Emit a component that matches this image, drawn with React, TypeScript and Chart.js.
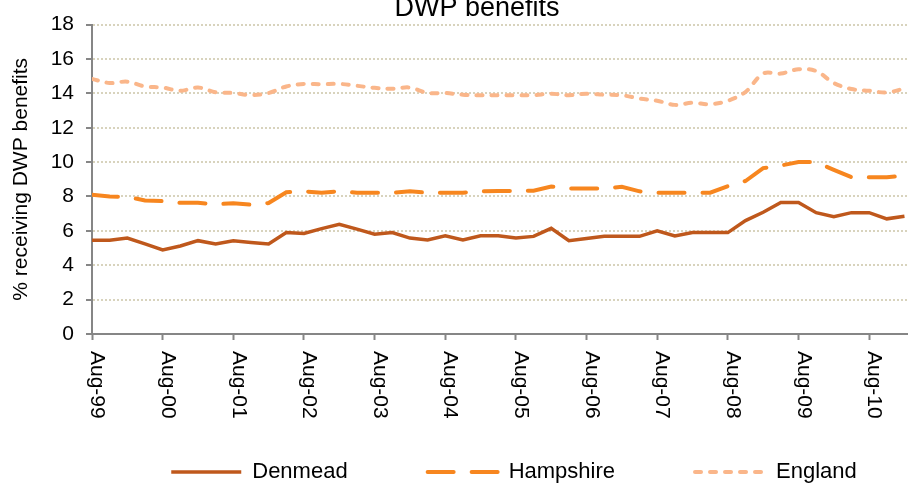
import React, { useEffect, useRef } from 'react';
import { Chart, registerables } from 'chart.js';

Chart.register(...registerables);

const FONT = "'Liberation Sans', Arial, sans-serif";

// Quarterly observations, Aug-99 onwards
const yearLabels = ['Aug-99', 'Aug-00', 'Aug-01', 'Aug-02', 'Aug-03', 'Aug-04', 'Aug-05', 'Aug-06', 'Aug-07', 'Aug-08', 'Aug-09', 'Aug-10'];

const denmead = [
  5.45, 5.45, 5.58, 5.24, 4.89, 5.12, 5.43, 5.24, 5.43, 5.33, 5.24, 5.9,
  5.85, 6.13, 6.38, 6.1, 5.8, 5.9, 5.58, 5.47, 5.71, 5.47, 5.71, 5.71,
  5.58, 5.68, 6.15, 5.43, 5.56, 5.68, 5.68, 5.68, 6.0, 5.71, 5.9, 5.9,
  5.9, 6.6, 7.08, 7.65, 7.65, 7.06, 6.83, 7.06, 7.06, 6.7, 6.85,
];

const hampshire = [
  8.1, 8.0, 7.98, 7.77, 7.73, 7.63, 7.63, 7.55, 7.6, 7.52, 7.62, 8.25,
  8.3, 8.22, 8.3, 8.22, 8.22, 8.22, 8.3, 8.22, 8.22, 8.22, 8.3, 8.32,
  8.33, 8.33, 8.58, 8.46, 8.46, 8.46, 8.56, 8.3, 8.22, 8.22, 8.22, 8.22,
  8.6, 8.9, 9.65, 9.8, 10.0, 10.0, 9.55, 9.12, 9.12, 9.12, 9.2,
];

const england = [
  14.84, 14.6, 14.68, 14.4, 14.34, 14.15, 14.34, 14.06, 14.02, 13.9, 14.02, 14.4,
  14.55, 14.53, 14.55, 14.44, 14.32, 14.27, 14.34, 14.02, 14.02, 13.92, 13.89, 13.89,
  13.89, 13.89, 13.98, 13.89, 13.98, 13.92, 13.89, 13.7, 13.57, 13.33, 13.45, 13.37,
  13.57, 14.08, 15.15, 15.15, 15.4, 15.3, 14.6, 14.25, 14.15, 14.05, 14.28,
];

const yTicks = { min: 0, max: 18, step: 2 };

const toPoints = (arr: number[]) => arr.map((y, i) => ({ x: i, y }));

const layoutPlugin = {
  id: 'layoutTweaks',
  afterLayout(chart: any) {
    const lg = chart.legend;
    if (lg) {
      const h = lg.bottom - lg.top;
      lg.left += 60;
      lg.right += 60;
      lg.top = 381;
      lg.bottom = lg.top + h;
    }
    const tb = chart.titleBlock;
    if (tb) {
      tb.left += 23;
      tb.right += 23;
    }
  },
  afterDraw(chart: any) {
    const xs = chart.scales.x;
    const ctx = chart.ctx;
    ctx.save();
    ctx.font = `21px ${FONT}`;
    ctx.fillStyle = '#000';
    ctx.textAlign = 'left';
    ctx.textBaseline = 'middle';
    xs.ticks.forEach((t: any) => {
      const idx = Math.round(t.value / 4);
      const label = yearLabels[idx];
      if (!label) return;
      const px = xs.getPixelForValue(t.value);
      ctx.save();
      ctx.translate(px + 5, xs.top + 17);
      ctx.rotate(Math.PI / 2);
      ctx.fillText(label, 0, 0);
      ctx.restore();
    });
    ctx.restore();
  },
};

export default function App() {
  const ref = useRef<HTMLCanvasElement>(null);

  useEffect(() => {
    if (!ref.current) return;
    Chart.defaults.font.family = FONT;
    Chart.defaults.color = '#000';
    const baseGen = Chart.defaults.plugins.legend.labels.generateLabels;
    const chart = new Chart(ref.current, {
      type: 'line',
      data: {
        datasets: [
          {
            label: 'Denmead',
            data: toPoints(denmead),
            borderColor: '#BF581C',
            backgroundColor: '#BF581C',
            borderWidth: 3.5,
            pointRadius: 0,
            tension: 0,
            fill: false,
          },
          {
            label: 'Hampshire',
            data: toPoints(hampshire),
            borderColor: '#F7861F',
            backgroundColor: '#F7861F',
            borderWidth: 4,
            borderDash: [26, 18],
            borderCapStyle: 'round',
            pointRadius: 0,
            tension: 0,
            fill: false,
          },
          {
            label: 'England',
            data: toPoints(england),
            borderColor: '#FAB68A',
            backgroundColor: '#FAB68A',
            borderWidth: 4,
            borderDash: [6, 9],
            borderCapStyle: 'round',
            pointRadius: 0,
            tension: 0.35,
            fill: false,
          },
        ],
      } as any,
      options: {
        responsive: false,
        animation: false,
        events: [],
        layout: { padding: 0 },
        plugins: {
          title: {
            display: true,
            text: 'DWP benefits',
            font: { size: 27, weight: 'normal', lineHeight: 1 },
            color: '#000',
            padding: { top: -12, bottom: 3 },
          },
          legend: {
            position: 'bottom',
            labels: {
              usePointStyle: true,
              pointStyle: 'line',
              pointStyleWidth: 70,
              font: { size: 22 },
              color: '#000',
              padding: 80,
              generateLabels: (ch: any) => {
                const items = baseGen(ch);
                return items.map((it: any) => {
                  const ds = ch.data.datasets[it.datasetIndex];
                  return {
                    ...it,
                    lineDash: ds.borderDash || [],
                    lineCap: ds.borderCapStyle || 'butt',
                    lineWidth: ds.borderWidth,
                    strokeStyle: ds.borderColor,
                    fillStyle: ds.borderColor,
                    pointStyle: 'line',
                  };
                });
              },
            },
          },
          tooltip: { enabled: false },
        },
        scales: {
          x: {
            type: 'linear',
            min: 0,
            max: 46.2,
            afterFit: (s: any) => {
              s.height = 39;
            },
            ticks: { stepSize: 4, includeBounds: false, display: false },
            grid: {
              drawOnChartArea: false,
              drawTicks: true,
              tickLength: 6,
              tickColor: '#868686',
              tickWidth: 2,
              tickBorderDash: [],
            },
            border: { display: true, color: '#868686', width: 2 },
          },
          y: {
            min: yTicks.min,
            max: yTicks.max,
            afterFit: (s: any) => {
              s.width = 92;
            },
            ticks: { stepSize: yTicks.step, font: { size: 21 }, color: '#000', padding: 12 },
            grid: {
              color: (c: any) => (c.tick && c.tick.value === 0 ? 'rgba(0,0,0,0)' : '#D8D3BD'),
              lineWidth: 2,
              drawTicks: true,
              tickLength: 6,
              tickColor: '#868686',
              tickWidth: 2,
              tickBorderDash: [],
            },
            border: { display: true, color: '#868686', width: 2, dash: [2, 2] },
            title: {
              display: true,
              text: '% receiving DWP benefits',
              font: { size: 21 },
              color: '#000',
              padding: { top: 9, bottom: 0 },
            },
          },
        },
      } as any,
      plugins: [layoutPlugin],
    });
    return () => chart.destroy();
  }, []);

  return (
    <div style={{ position: 'fixed', left: 0, top: 0, width: 908, height: 485, background: '#fff' }}>
      <canvas ref={ref} width={908} height={485} style={{ display: 'block', width: 908, height: 485 }} />
    </div>
  );
}
